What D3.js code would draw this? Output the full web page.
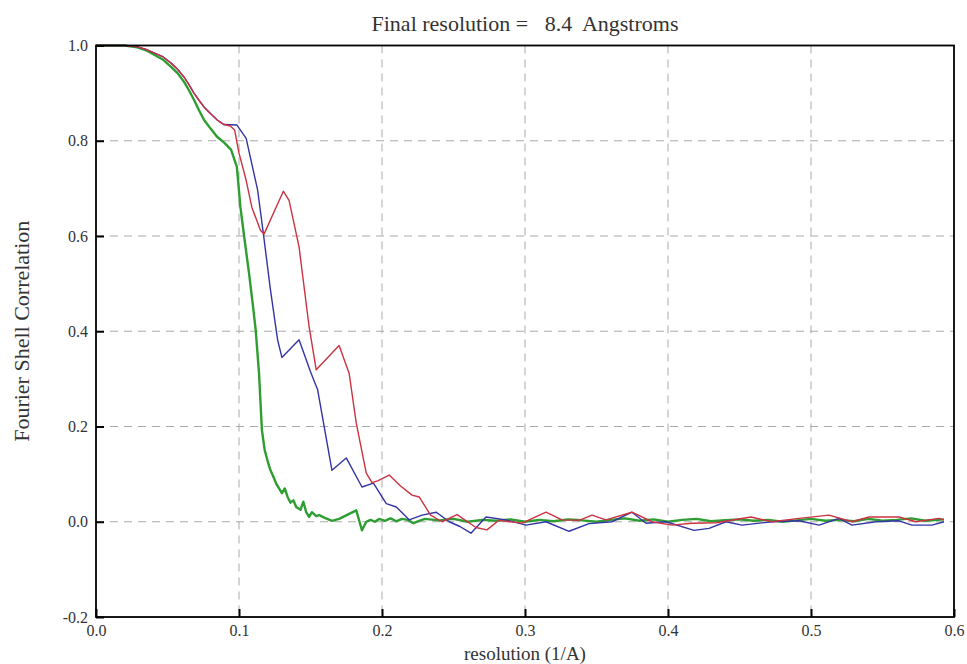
<!DOCTYPE html>
<html>
<head>
<meta charset="utf-8">
<script src="https://cdn.jsdelivr.net/npm/d3@7"></script>
<style>
  html, body { margin: 0; padding: 0; background: #fff; }
  svg text { font-family: "Liberation Serif", "DejaVu Serif", serif; fill: #333; }
  .grid line { stroke: #aaa; stroke-dasharray: 8,6; stroke-width: 1; }
</style>
</head>
<body>
<svg id="chart" width="967" height="664"></svg>
<script>
// FSC curves
const redX = [0, 0.01, 0.02, 0.029, 0.035, 0.041, 0.047, 0.0525, 0.057, 0.0615, 0.065, 0.0685, 0.072, 0.0755, 0.08, 0.085, 0.0895,
  0.094, 0.097, 0.1, 0.105, 0.109, 0.115, 0.1175, 0.131, 0.135, 0.142, 0.149, 0.154, 0.17, 0.177, 0.182, 0.189, 0.193, 0.197, 0.205,
  0.213, 0.221, 0.226, 0.234, 0.242, 0.2525, 0.2657, 0.2734, 0.2818, 0.2979, 0.3147, 0.3259, 0.3378, 0.3469, 0.3566, 0.3748, 0.3888,
  0.4028, 0.4168, 0.4336, 0.458, 0.4727, 0.4916, 0.5126, 0.5287, 0.5406, 0.5615, 0.5734, 0.5895, 0.593];
const redY = [1, 1, 1, 0.997, 0.992, 0.984, 0.976, 0.963, 0.95, 0.934, 0.918, 0.9, 0.885, 0.871, 0.857, 0.843, 0.834,
  0.831, 0.822, 0.774, 0.717, 0.66, 0.612, 0.604, 0.694, 0.675, 0.577, 0.41, 0.319, 0.37, 0.312, 0.207, 0.102, 0.082, 0.086, 0.098,
  0.075, 0.056, 0.052, 0.014, 0.0, 0.015, -0.012, -0.017, 0.003, -0.003, 0.02, 0.004, 0.003, 0.014, 0.004, 0.02, 0.0,
  -0.007, -0.003, -0.002, 0.01, 0.0, 0.007, 0.014, 0.0, 0.01, 0.01, 0.0, 0.007, 0.004];

const blueX = [0, 0.01, 0.02, 0.029, 0.035, 0.041, 0.047, 0.0525, 0.057, 0.0615, 0.065, 0.0685, 0.072, 0.0755, 0.08, 0.085, 0.0895,
  0.0986, 0.105, 0.113, 0.117, 0.122, 0.127, 0.13, 0.142, 0.15, 0.155, 0.165, 0.175, 0.186, 0.194, 0.203, 0.21, 0.219, 0.228, 0.238,
  0.247, 0.2545, 0.2622, 0.2727, 0.2867, 0.3007, 0.3147, 0.3308, 0.3448, 0.3608, 0.3748, 0.3846, 0.3986, 0.4182, 0.4287, 0.4406,
  0.4517, 0.4727, 0.4916, 0.5056, 0.5196, 0.5287, 0.5455, 0.5615, 0.5706, 0.5846, 0.593];
const blueY = [1, 1, 1, 0.997, 0.992, 0.984, 0.976, 0.963, 0.95, 0.934, 0.918, 0.9, 0.885, 0.871, 0.857, 0.843, 0.834,
  0.833, 0.805, 0.697, 0.606, 0.487, 0.382, 0.345, 0.382, 0.315, 0.277, 0.108, 0.134, 0.073, 0.081, 0.038, 0.031, 0.004, 0.014, 0.02,
  0.0, -0.01, -0.024, 0.01, 0.004, -0.007, 0.0, -0.02, -0.004, 0.0, 0.02, -0.003, 0.0, -0.018, -0.014, 0.0,
  -0.007, 0.0, 0.002, -0.007, 0.007, -0.007, 0.0, 0.002, -0.007, -0.007, 0.0];

const greenX = [0, 0.01, 0.02, 0.029, 0.035, 0.041, 0.047, 0.0525, 0.057, 0.0615, 0.065, 0.0685, 0.072, 0.0755, 0.08, 0.0845, 0.09,
  0.0945, 0.0985, 0.101, 0.104, 0.107, 0.1095, 0.1117, 0.114, 0.116, 0.118, 0.12, 0.122, 0.124, 0.126, 0.128, 0.13, 0.132, 0.134,
  0.136, 0.138, 0.14, 0.143, 0.145, 0.147, 0.149, 0.151, 0.154, 0.156, 0.16, 0.165, 0.17, 0.176, 0.182, 0.186, 0.189, 0.192, 0.195,
  0.198, 0.202, 0.206, 0.21, 0.214, 0.218, 0.222, 0.226, 0.23, 0.24, 0.25, 0.26, 0.27, 0.28, 0.29, 0.3, 0.31, 0.32, 0.33, 0.34,
  0.35, 0.36, 0.37, 0.38, 0.39, 0.4, 0.41, 0.42, 0.43, 0.44, 0.45, 0.46, 0.47, 0.48, 0.49, 0.5, 0.51, 0.52, 0.53, 0.54, 0.55,
  0.56, 0.57, 0.58, 0.593];
const greenY = [1, 1, 1, 0.996, 0.99, 0.98, 0.97, 0.955, 0.942, 0.924, 0.906, 0.886, 0.864, 0.844, 0.826, 0.809, 0.795,
  0.781, 0.745, 0.66, 0.59, 0.522, 0.46, 0.402, 0.312, 0.193, 0.15, 0.128, 0.108, 0.095, 0.08, 0.07, 0.06, 0.07, 0.052,
  0.04, 0.045, 0.031, 0.025, 0.042, 0.02, 0.01, 0.02, 0.012, 0.014, 0.008, 0.002, 0.006, 0.015, 0.024, -0.018, 0.0, 0.004, 0.0,
  0.006, 0.002, 0.007, 0.001, 0.006, 0.004, -0.003, 0.002, 0.006, 0.003, 0.006, 0.0, 0.004, 0.002, 0.005, 0.0, 0.004, 0.001, 0.005, 0.003,
  0.0, 0.004, 0.007, 0.002, 0.005, 0.0, 0.004, 0.006, 0.001, 0.003, 0.005, 0.002, 0.004, 0.0, 0.003, 0.006, 0.002, 0.004, 0.001, 0.006, 0.002,
  0.004, 0.007, 0.002, 0.005];

const xTicks = [0, 0.1, 0.2, 0.3, 0.4, 0.5, 0.6];
const xTickLabels = ["0.0", "0.1", "0.2", "0.3", "0.4", "0.5", "0.6"];
const yTicks = [-0.2, 0, 0.2, 0.4, 0.6, 0.8, 1.0];
const yTickLabels = ["-0.2", "0.0", "0.2", "0.4", "0.6", "0.8", "1.0"];

const series = [
  { x: greenX, y: greenY, color: "#2e9e32", width: 2.4 },
  { x: blueX, y: blueY, color: "#3434a6", width: 1.4 },
  { x: redX, y: redY, color: "#cc3242", width: 1.4 }
];

const svg = d3.select("#chart");
const plotL = 96, plotR = 954, plotT = 45.5, plotB = 617;

const x = d3.scaleLinear().domain([0, 0.6]).range([plotL, plotR]);
const y = d3.scaleLinear().domain([-0.2, 1.0]).range([plotB, plotT]);

// grid
const grid = svg.append("g").attr("class", "grid");
grid.selectAll("line.v").data(xTicks.slice(1, -1)).enter().append("line")
  .attr("x1", d => x(d)).attr("x2", d => x(d)).attr("y1", plotT).attr("y2", plotB);
grid.selectAll("line.h").data(yTicks.slice(1, -1)).enter().append("line")
  .attr("y1", d => y(d)).attr("y2", d => y(d)).attr("x1", plotL).attr("x2", plotR);

// curves
const line = d3.line().x(d => x(d[0])).y(d => y(d[1]));
svg.append("g").selectAll("path").data(series).enter().append("path")
  .attr("d", s => line(s.x.map((v, i) => [v, s.y[i]])))
  .attr("fill", "none")
  .attr("stroke", s => s.color)
  .attr("stroke-width", s => s.width)
  .attr("stroke-linejoin", "round");

// axes (ticks point inward)
const fmtX = d => xTickLabels[xTicks.indexOf(d)];
const fmtY = d => yTickLabels[yTicks.indexOf(d)];
const xAxis = svg.append("g").attr("transform", `translate(0,${plotB})`)
  .call(d3.axisBottom(x).tickValues(xTicks).tickFormat(fmtX).tickSizeInner(-8).tickSizeOuter(0).tickPadding(8));
const yAxis = svg.append("g").attr("transform", `translate(${plotL},0)`)
  .call(d3.axisLeft(y).tickValues(yTicks).tickFormat(fmtY).tickSizeInner(-8).tickSizeOuter(0).tickPadding(8));
[xAxis, yAxis].forEach(a => {
  a.select(".domain").remove();
  a.selectAll(".tick line").attr("stroke", "#000").attr("stroke-width", 2);
  a.selectAll(".tick text").attr("font-size", 16).style("font-family", "'Liberation Serif', serif").attr("fill", "#444");
});

// frame
svg.append("rect")
  .attr("x", plotL).attr("y", plotT)
  .attr("width", plotR - plotL).attr("height", plotB - plotT)
  .attr("fill", "none").attr("stroke", "#000").attr("stroke-width", 1.8);

// labels
svg.append("text")
  .attr("x", 525).attr("y", 31)
  .attr("text-anchor", "middle").attr("font-size", 22)
  .style("white-space", "pre")
  .text("Final resolution =   8.4  Angstroms");

svg.append("text")
  .attr("x", 525).attr("y", 659.5)
  .attr("text-anchor", "middle").attr("font-size", 19)
  .text("resolution (1/A)");

svg.append("text")
  .attr("transform", `translate(29,${(plotT + plotB) / 2}) rotate(-90)`)
  .attr("text-anchor", "middle").attr("font-size", 22)
  .text("Fourier Shell Correlation");
</script>
</body>
</html>
